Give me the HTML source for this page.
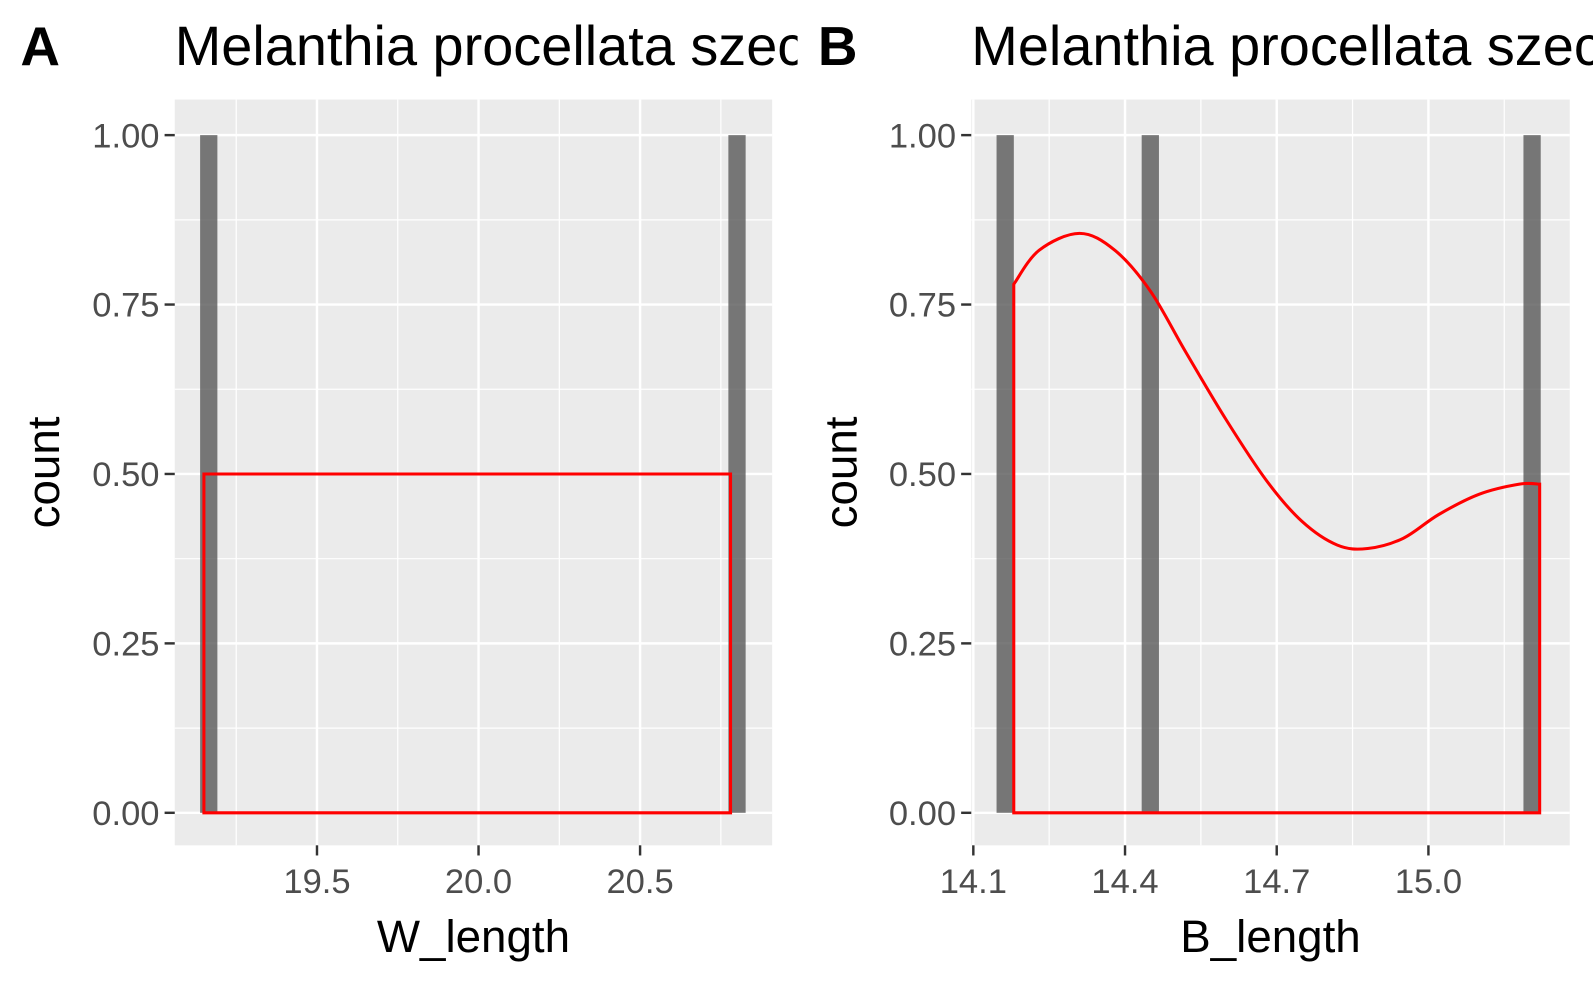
<!DOCTYPE html>
<html><head><meta charset="utf-8"><style>
body{margin:0;background:#fff}
svg{display:block;font-family:"Liberation Sans",Arial,sans-serif}
</style></head><body>
<svg id="chart" width="1593" height="984" viewBox="0 0 1593 984">
<defs>
<clipPath id="clipA"><rect x="0" y="0" width="785" height="984"/></clipPath>
<clipPath id="clipB"><rect x="790" y="0" width="830" height="984"/></clipPath>
</defs>
<g id="root" transform="scale(1.016)"></g>
</svg>
<script>
// Panel A data
const aTicks = [19.5, 20.0, 20.5];
const aTickLabels = ["19.5", "20.0", "20.5"];
const aBarX = [19.165, 20.80];
const aBarCount = [1, 1];
const aDensX = [19.15, 19.15, 20.78, 20.78];
const aDensY = [0, 0.5, 0.5, 0];
// Panel B data
const bTicks = [14.1, 14.4, 14.7, 15.0];
const bTickLabels = ["14.1", "14.4", "14.7", "15.0"];
const bBarX = [14.163, 14.45, 15.205];
const bBarCount = [1, 1, 1];
const bDensX = [14.18,14.18,14.23,14.31,14.38,14.45,14.52,14.6,14.68,14.75,14.82,14.88,14.95,15.02,15.1,15.18,15.22,15.22];
const bDensY = [0,0.78,0.83,0.855,0.83,0.77,0.68,0.58,0.49,0.43,0.395,0.39,0.405,0.44,0.47,0.485,0.485,0];
const yTicks = [0, 0.25, 0.5, 0.75, 1.0];
const yTickLabels = ["0.00", "0.25", "0.50", "0.75", "1.00"];

const NS = "http://www.w3.org/2000/svg";
const svg = document.getElementById('root');
function mk(tag, attrs, parent) {
  const e = document.createElementNS(NS, tag);
  for (const k in attrs) e.setAttribute(k, attrs[k]);
  (parent || svg).appendChild(e);
  return e;
}
function panel(o) {
  const g = mk('g', {'clip-path': o.clip});
  
  
  const y0 = 800, y1 = 133;
  const ys = v => y0 + (y1 - y0) * v;
  const xs = v => o.px0 + (v - o.t0) * o.ppu;
  const bg = mk('rect', {x: o.left, y: 98, width: o.right - o.left, height: 734, fill: '#ebebeb'}, g);
  
  
  for (let i = 0; i < yTicks.length - 1; i++) {
    const v = (yTicks[i] + yTicks[i + 1]) / 2;
    mk('line', {x1: o.left, x2: o.right, y1: ys(v), y2: ys(v), stroke: '#fff', 'stroke-width': 1.2}, g);
  }
  const step = o.ticks[1] - o.ticks[0];
  for (let v = o.ticks[0] - step / 2; v < o.ticks[o.ticks.length - 1] + step; v += step) {
    const x = xs(v);
    if (x > o.left && x < o.right) mk('line', {x1: x, x2: x, y1: 98, y2: 832, stroke: '#fff', 'stroke-width': 1.2}, g);
  }
  yTicks.forEach((v, i) => {
    mk('line', {x1: o.left, x2: o.right, y1: ys(v), y2: ys(v), stroke: '#fff', 'stroke-width': 2.4}, g);
    mk('line', {x1: o.left - 10, x2: o.left, y1: ys(v), y2: ys(v), stroke: '#333', 'stroke-width': 2.4}, g);
    const t = mk('text', {x: o.left - 15, y: ys(v) + 12, 'text-anchor': 'end', 'font-size': 34, fill: '#4d4d4d'}, g);
    t.textContent = yTickLabels[i];
    
    
  });
  o.ticks.forEach((v, i) => {
    const x = xs(v);
    mk('line', {x1: x, x2: x, y1: 98, y2: 832, stroke: '#fff', 'stroke-width': 2.4}, g);
    mk('line', {x1: x, x2: x, y1: 832, y2: 842, stroke: '#333', 'stroke-width': 2.4}, g);
    const t = mk('text', {x: x, y: 879, 'text-anchor': 'middle', 'font-size': 34, fill: '#4d4d4d'}, g);
    t.textContent = o.tickLabels[i];
    
    
  });
  o.barX.forEach((v, i) => {
    const r = mk('rect', {x: xs(v) - 8.5, y: ys(o.barCount[i]), width: 17, height: ys(0) - ys(o.barCount[i]), fill: '#595959', 'fill-opacity': 0.8}, g);
    
    
  });
  const pts = o.densX.map((v, i) => [xs(v), ys(o.densY[i])]);
  let d = 'M' + pts[0][0] + ',' + pts[0][1] + ' L' + pts[1][0] + ',' + pts[1][1];
  if (pts.length > 4) {
    const inner = pts.slice(1, pts.length - 1);
    for (let i = 0; i < inner.length - 1; i++) {
      const p0 = inner[Math.max(0, i - 1)], p1 = inner[i], p2 = inner[i + 1], p3 = inner[Math.min(inner.length - 1, i + 2)];
      const c1 = [p1[0] + (p2[0] - p0[0]) / 6, p1[1] + (p2[1] - p0[1]) / 6];
      const c2 = [p2[0] - (p3[0] - p1[0]) / 6, p2[1] - (p3[1] - p1[1]) / 6];
      d += ' C' + c1.join(',') + ' ' + c2.join(',') + ' ' + p2.join(',');
    }
    d += ' L' + pts[pts.length - 1].join(',');
  } else {
    for (let i = 2; i < pts.length; i++) d += ' L' + pts[i].join(',');
  }
  d += ' Z';
  const p = mk('path', {d: d, fill: 'none', stroke: '#ff0000', 'stroke-width': 3}, g);
  
  
  const tag = mk('text', {x: o.tagX, y: 64, 'font-size': 54, 'font-weight': 'bold', fill: '#000'}, g);
  tag.textContent = o.tag;
  
  
  const title = mk('text', {x: o.left, y: 64, 'font-size': 55, fill: '#000'}, g);
  title.textContent = 'Melanthia procellata szeczuanensis';
  
  
  const yl = mk('text', {x: 0, y: 0, 'font-size': 45, fill: '#000', 'text-anchor': 'middle', transform: 'translate(' + (o.tagX + 38) + ',465) rotate(-90)'}, g);
  yl.textContent = 'count';
  
  
  const xl = mk('text', {x: (o.left + o.right) / 2, y: 937, 'font-size': 45, fill: '#000', 'text-anchor': 'middle'}, g);
  xl.textContent = o.xlabel;
  
  
}
panel({name: 'panel-a', clip: 'url(#clipA)', left: 172, right: 760, px0: 312, t0: 19.5, ppu: 318,
  ticks: aTicks, tickLabels: aTickLabels, barX: aBarX, barCount: aBarCount, densX: aDensX, densY: aDensY,
  tag: 'A', tagX: 20, xlabel: 'W_length'});
panel({name: 'panel-b', clip: 'url(#clipB)', left: 956, right: 1545, px0: 958, t0: 14.1, ppu: 497.7,
  ticks: bTicks, tickLabels: bTickLabels, barX: bBarX, barCount: bBarCount, densX: bDensX, densY: bDensY,
  tag: 'B', tagX: 805, xlabel: 'B_length'});
</script>
</body></html>
